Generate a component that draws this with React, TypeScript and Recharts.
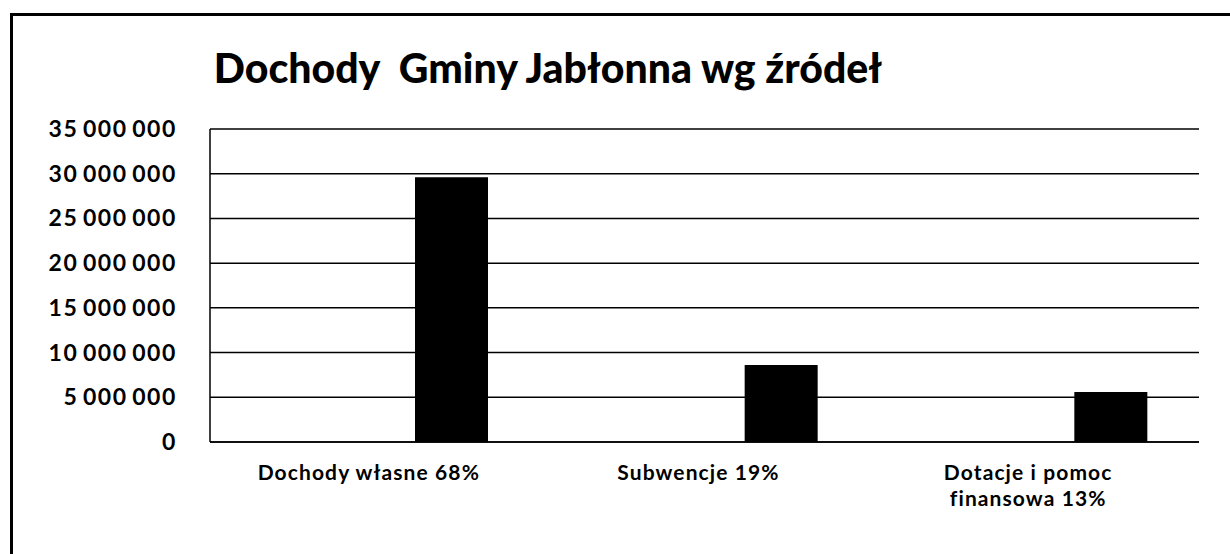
import React from 'react'
import { BarChart, Bar, XAxis, YAxis, CartesianGrid } from 'recharts'

// kategorie dochodów (z podziałem linii jak na wykresie)
const categories = ['Dochody własne 68%', 'Subwencje 19%', 'Dotacje i pomoc\nfinansowa 13%']
// pusta seria – w oryginale słupki są przesunięte w prawo
const emptySeries = [0, 0, 0]
const incomeValues = [29600000, 8600000, 5600000]
const yTicks = [0, 5000000, 10000000, 15000000, 20000000, 25000000, 30000000, 35000000]

const FONT = 'Lato, "Open Sans", sans-serif'

const chartData = categories.map((name, i) => ({
  name,
  pusty: emptySeries[i],
  dochody: incomeValues[i],
}))

const formatMoney = (v: number) =>
  String(v).replace(/\B(?=(\d{3})+(?!\d))/g, '\u2009')

function YTick(props: any) {
  const { y, payload } = props
  return (
    <text
      x={177}
      y={y}
      dy={8}
      textAnchor="end"
      fontFamily={FONT}
      fontWeight={700}
      fontSize={23}
      letterSpacing={1.6}
      fill="#000"
    >
      {formatMoney(payload.value)}
    </text>
  )
}

function XTick(props: any) {
  const { x, y, payload } = props
  const lines = String(payload.value).split('\n')
  return (
    <g>
      {lines.map((line, i) => (
        <text
          key={i}
          x={x - 6}
          y={y + 30 + i * 26}
          textAnchor="middle"
          fontFamily={FONT}
          fontWeight={700}
          fontSize={21}
          letterSpacing={1.1}
          fill="#000"
        >
          {line}
        </text>
      ))}
    </g>
  )
}

export default function App() {
  return (
    <div
      style={{
        position: 'fixed',
        top: 0,
        left: 0,
        width: 1230,
        height: 554,
        background: '#fff',
        overflow: 'hidden',
      }}
    >
      <div
        style={{
          position: 'absolute',
          left: 10,
          top: 13,
          width: 1400,
          height: 700,
          borderTop: '3px solid #000',
          borderLeft: '3px solid #000',
        }}
      />
      <div
        style={{
          position: 'absolute',
          top: 43,
          left: 0,
          width: 1096,
          textAlign: 'center',
          fontFamily: FONT,
          fontWeight: 900,
          fontSize: 41,
          color: '#000',
        }}
      >
        Dochody&nbsp; Gminy Jabłonna wg źródeł
      </div>
      <div style={{ position: 'absolute', top: 0, left: 0 }}>
        <BarChart
          width={1230}
          height={554}
          data={chartData}
          margin={{ top: 129, right: 31, bottom: 0, left: 0 }}
          barSize={73}
          barGap={81}
        >
          <CartesianGrid horizontal vertical={false} stroke="#000" strokeWidth={1.5} />
          <XAxis
            dataKey="name"
            axisLine={{ stroke: '#000', strokeWidth: 1.5 }}
            tickLine={false}
            tick={<XTick />}
            interval={0}
            height={112}
          />
          <YAxis
            width={210}
            domain={[0, 35000000]}
            ticks={yTicks}
            axisLine={{ stroke: '#000', strokeWidth: 1.5 }}
            tickLine={false}
            tick={<YTick />}
            interval={0}
          />
          <Bar dataKey="pusty" fill="#000" isAnimationActive={false} />
          <Bar dataKey="dochody" fill="#000" isAnimationActive={false} />
        </BarChart>
      </div>
    </div>
  )
}
